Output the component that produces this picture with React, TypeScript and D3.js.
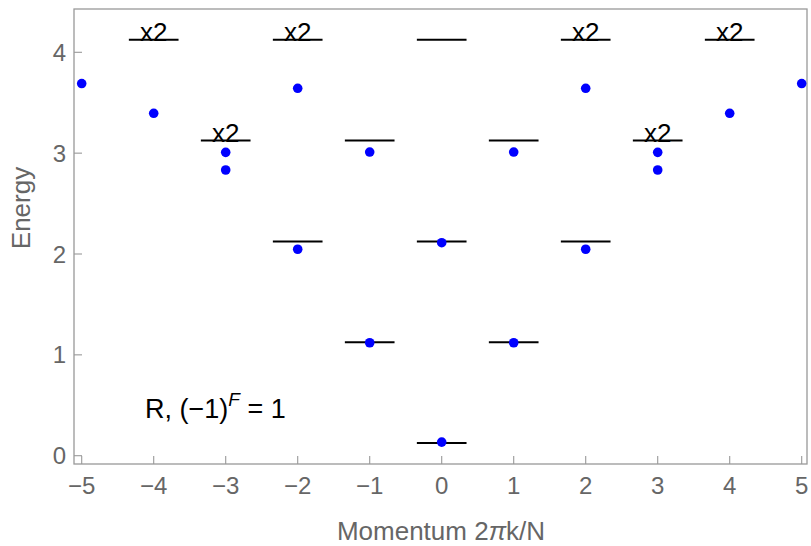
import React from "react";
import * as d3 from "d3";

const xTicks = [-5, -4, -3, -2, -1, 0, 1, 2, 3, 4, 5];
const yTicks = [0, 1, 2, 3, 4];

// CFT prediction levels (momentum, energy, degeneracy)
const levelK = [0, 0, 0, -1, -1, 1, 1, -2, -2, 2, 2, -3, 3, -4, 4];
const levelE = [0.125, 2.125, 4.125, 1.125, 3.125, 1.125, 3.125, 2.125, 4.125, 2.125, 4.125, 3.125, 3.125, 4.125, 4.125];
const levelMult = [1, 1, 1, 1, 1, 1, 1, 1, 2, 1, 2, 2, 2, 2, 2];

// Numerical spectrum
const dotK = [-5, -4, -3, -3, -2, -2, -1, -1, 0, 0, 1, 1, 2, 2, 3, 3, 4, 5];
const dotE = [3.69, 3.395, 3.008, 2.833, 3.643, 2.047, 3.011, 1.12, 2.112, 0.135, 3.011, 1.12, 3.643, 2.047, 3.008, 2.833, 3.395, 3.69];

const W = 811;
const H = 546;
const left = 74, right = 807, top = 9, bottom = 464;

export default function App() {
  const x = d3.scaleLinear().domain([-5, 5]).range([81.7, 801.7]);
  const y = d3.scaleLinear().domain([0, 4]).range([455.7, 52.3]);
  const halfW = 0.345;
  const font = "'Liberation Sans', Arial, Helvetica, sans-serif";
  const axisColor = "#999";
  const labelColor = "#666";
  const fmt = (v: number) => (v < 0 ? "\u2212" + Math.abs(v) : String(v));

  return (
    <svg width={W} height={H} style={{ position: "absolute", left: 0, top: 0 }} fontFamily={font}>
      <rect x={0} y={0} width={W} height={H} fill="white" />
      {/* frame */}
      <rect x={left} y={top} width={right - left} height={bottom - top} fill="none" stroke={axisColor} strokeWidth={1.3} />
      {/* x ticks */}
      {xTicks.map((t) => (
        <g key={"xt" + t}>
          <line x1={x(t)} x2={x(t)} y1={bottom} y2={bottom - 8} stroke={axisColor} strokeWidth={1.1} />
          <text x={x(t)} y={494} fontSize={24} fill={labelColor} textAnchor="middle">{fmt(t)}</text>
        </g>
      ))}
      {/* y ticks */}
      {yTicks.map((t) => (
        <g key={"yt" + t}>
          <line x1={left} x2={left + 8} y1={y(t)} y2={y(t)} stroke={axisColor} strokeWidth={1.1} />
          <text x={66} y={y(t) + 8.5} fontSize={24} fill={labelColor} textAnchor="end">{t}</text>
        </g>
      ))}
      {/* axis labels */}
      <text x={441} y={540} fontSize={26} fill={labelColor} textAnchor="middle">
        Momentum 2<tspan fontStyle="italic">π</tspan>k/N
      </text>
      <text transform={`translate(30,${208}) rotate(-90)`} fontSize={26} fill={labelColor} textAnchor="middle">Energy</text>
      {/* levels */}
      {levelK.map((k, i) => (
        <g key={"lv" + i}>
          <line x1={x(k - halfW)} x2={x(k + halfW)} y1={y(levelE[i])} y2={y(levelE[i])} stroke="black" strokeWidth={2} />
          {levelMult[i] > 1 && (
            <text x={x(k)} y={y(levelE[i]) + 1} fontSize={26} fill="black" textAnchor="middle">x{levelMult[i]}</text>
          )}
        </g>
      ))}
      {/* dots */}
      {dotK.map((k, i) => (
        <circle key={"d" + i} cx={x(k)} cy={y(dotE[i])} r={4.8} fill="#0000ff" />
      ))}
      {/* annotation */}
      <text x={145} y={418} fontSize={27} fill="black">
        R, (<tspan>{"\u2212"}</tspan>1)<tspan dy={-12} fontSize={19} fontStyle="italic">F</tspan><tspan dy={12}> = 1</tspan>
      </text>
    </svg>
  );
}
